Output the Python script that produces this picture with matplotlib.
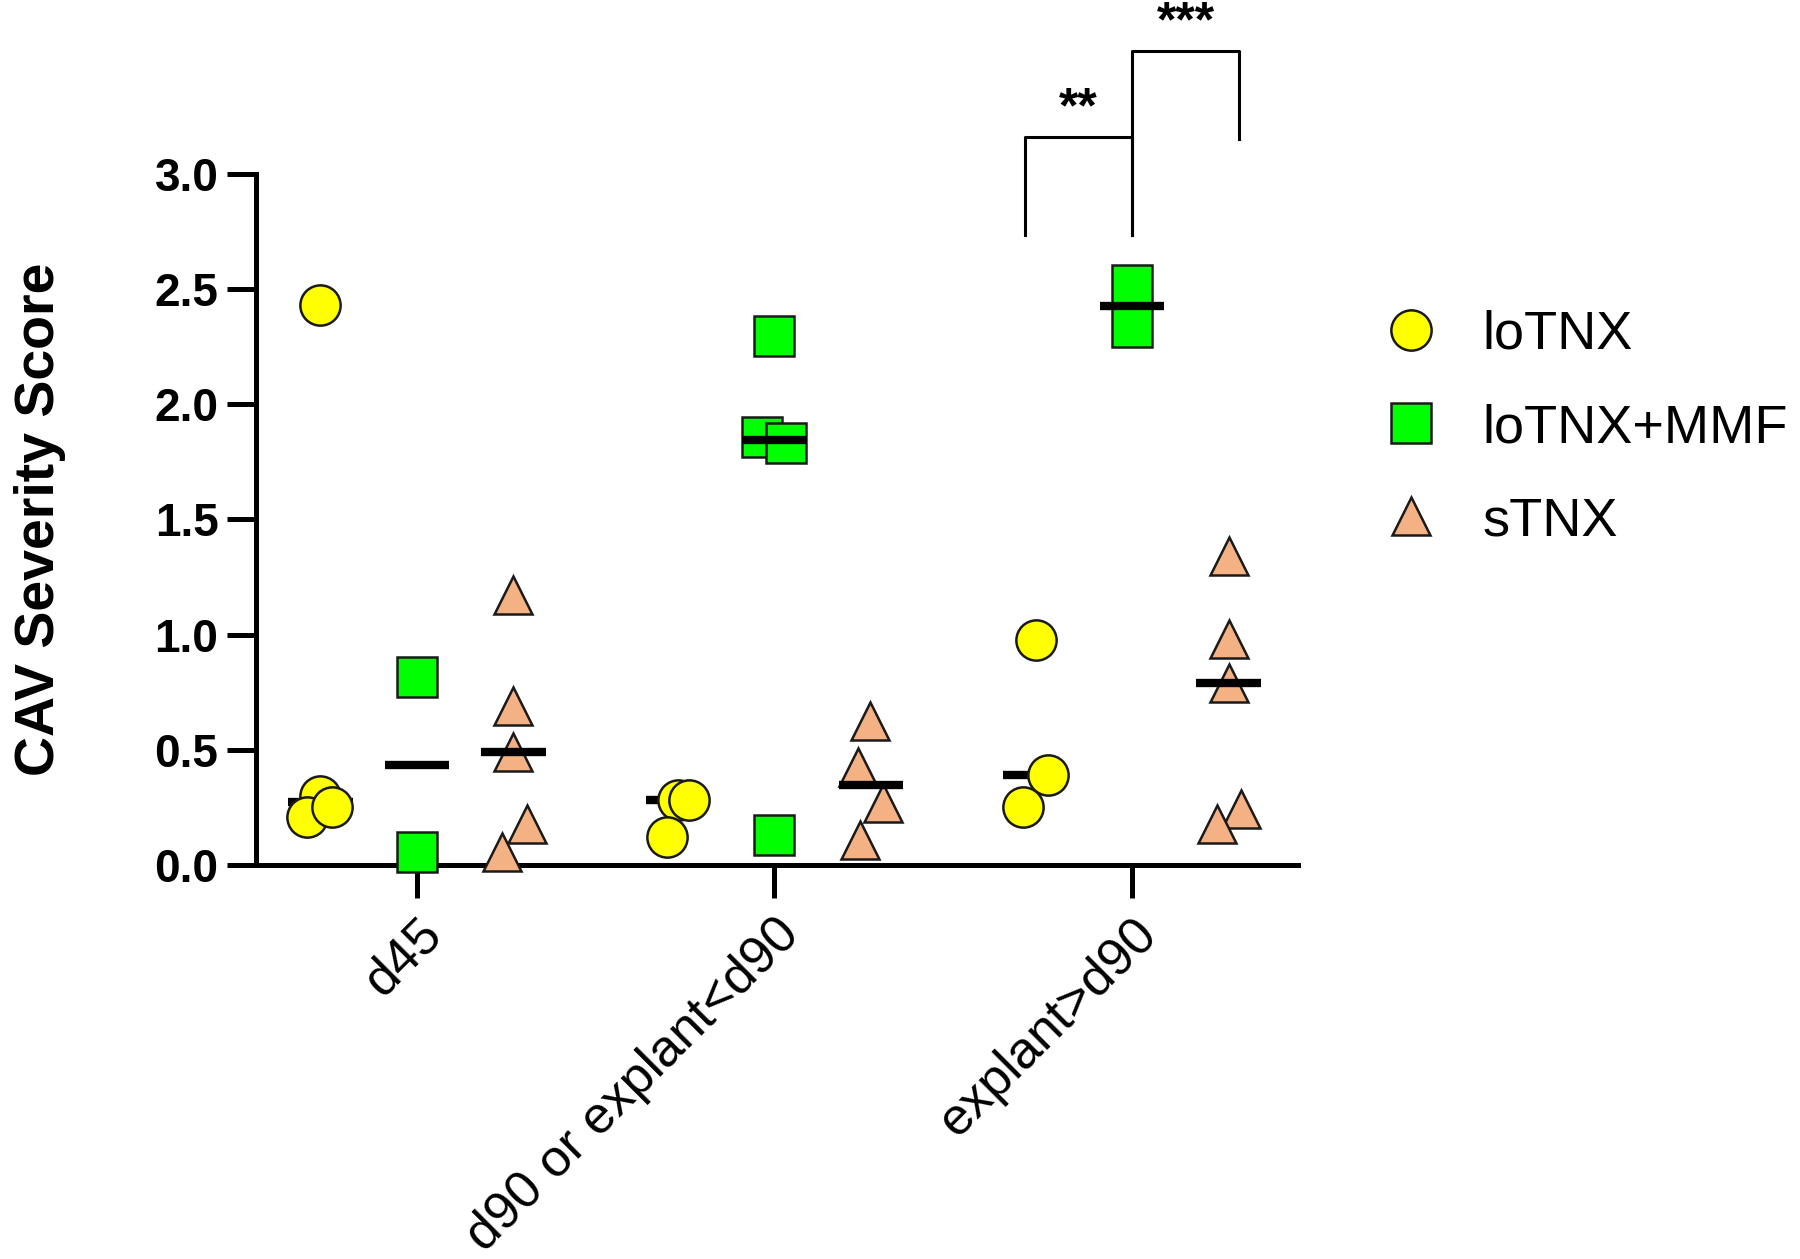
import numpy as np
import matplotlib
matplotlib.use("Agg")
import matplotlib.pyplot as plt
from matplotlib.lines import Line2D

plt.rcParams['font.family'] = ['Liberation Sans', 'DejaVu Sans']

# ---------------- data ----------------
categories = ["d45", "d90 or explant<d90", "explant>d90"]
series_names = ["loTNX", "loTNX+MMF", "sTNX"]

lo_vals = [[2.43, 0.30, 0.21, 0.25], [0.28, 0.28, 0.12], [0.975, 0.39, 0.25]]
lo_jit = [[0.0, 0.0, -0.038, 0.033], [0.0, 0.030, -0.030], [0.002, 0.035, -0.035]]

mmf_vals = [[0.815, 0.057], [2.295, 1.86, 1.83, 0.13], [2.52, 2.336]]
mmf_jit = [[0.0, 0.0], [0.0, -0.036, 0.031, 0.0], [0.0, 0.0]]

s_vals = [[1.17, 0.69, 0.49, 0.177, 0.057], [0.626, 0.426, 0.267, 0.107],
          [1.34, 0.98, 0.79, 0.242, 0.177]]
s_jit = [[0.0, 0.0, 0.0, 0.038, -0.032], [-0.003, -0.036, 0.034, -0.031],
         [0.0, 0.0, 0.0, 0.034, -0.033]]

yticks = [0.0, 0.5, 1.0, 1.5, 2.0, 2.5, 3.0]
ytick_labels = ["0.0", "0.5", "1.0", "1.5", "2.0", "2.5", "3.0"]

# significance comparisons in group "explant>d90": (series a, series b, label)
sig_group = 2
sig_pairs = [(0, 1, "**"), (1, 2, "***")]

# ---------------- style ----------------
offsets = [-0.27, 0.0, 0.27]
colors = ["#FFFF00", "#00FF00", "#F4B183"]
markers = ["o", "s", "^"]
msizes = [29, 29, 28]
zorders = [5, 3, 3]
edge = "#1a1a1a"

fig = plt.figure(figsize=(18, 12.59), dpi=100)
ax = fig.add_axes([0.1422, 0.3130, 0.5789, 0.5488])

all_vals = [lo_vals, mmf_vals, s_vals]
all_jit = [lo_jit, mmf_jit, s_jit]

for si in range(3):
    for gi in range(3):
        v = np.array(all_vals[si][gi])
        x = gi + offsets[si] + np.array(all_jit[si][gi])
        ax.plot(x, v, linestyle="none", marker=markers[si], markersize=msizes[si],
                markerfacecolor=colors[si], markeredgecolor=edge, markeredgewidth=1.8,
                clip_on=False, zorder=zorders[si])
        med = np.median(v)
        cx = gi + offsets[si]
        ax.plot([cx - 0.09, cx + 0.09], [med, med], color="black", lw=6,
                solid_capstyle="butt", clip_on=False, zorder=4)

ax.set_xlim(-0.45, 2.464)
ax.set_ylim(0, 3.0)
for s in ["top", "right"]:
    ax.spines[s].set_visible(False)
for s in ["left", "bottom"]:
    ax.spines[s].set_linewidth(3.6)

ax.set_yticks(yticks)
ax.set_yticklabels(ytick_labels, fontsize=33, fontweight="bold")
ax.set_xticks(range(len(categories)))
ax.set_xticklabels(categories, fontsize=37.5, rotation=45, ha="right", va="top",
                   rotation_mode="anchor")
ax.tick_params(axis="y", length=21, width=3.6, pad=6)
ax.tick_params(axis="x", length=24, width=3.6, pad=8)
ax.set_ylabel("CAV Severity Score", fontsize=40, fontweight="bold", labelpad=64)

# significance brackets
gi = sig_group
tops = [3.161, 3.534]
for k, (a, b, lab) in enumerate(sig_pairs):
    xa = gi + offsets[a] * 1.11
    xb = gi + offsets[b] * 1.11
    h = tops[k]
    ya = 2.736
    yb = 2.736 if k == 0 else 3.152
    ax.plot([xa, xa, xb, xb], [ya, h, h, yb], color="black", lw=2.2,
            clip_on=False, zorder=2)
    ax.text((xa + xb) / 2, h + 0.12, lab, ha="center", va="center",
            fontsize=36, fontweight="bold", clip_on=False)

# legend
handles = [Line2D([0], [0], linestyle="none", marker=markers[i], markersize=msizes[i],
                  markerfacecolor=colors[i], markeredgecolor=edge, markeredgewidth=1.8)
           for i in range(3)]
fig.legend(handles, series_names, loc="upper left", bbox_to_anchor=(0.769, 0.754),
           frameon=False, fontsize=39, handlelength=1.0, handletextpad=0.82,
           labelspacing=0.80, borderpad=0, borderaxespad=0)

fig.savefig("out.png", dpi=100)
